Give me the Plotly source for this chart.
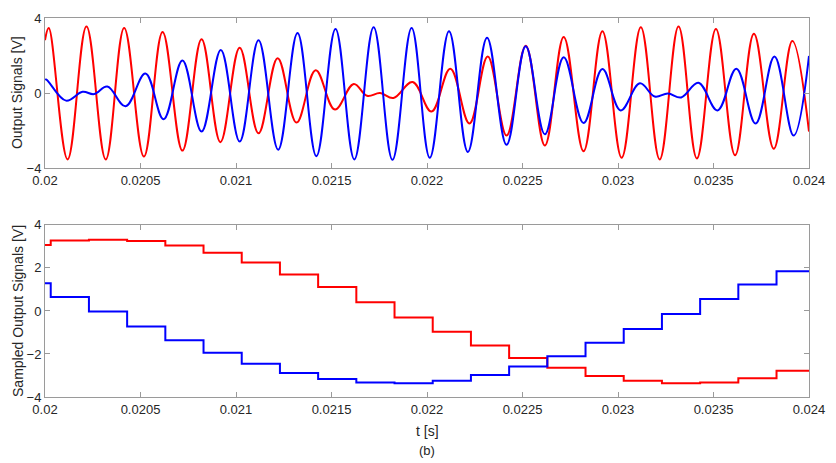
import plotly.graph_objects as go

# ---------------- top panel: output signals (extrema) -------------
red_t = [0.02, 0.0200197, 0.0201184, 0.0202171, 0.0203179, 0.0204145, 0.0205179, 0.0206156,
         0.0207195, 0.0208197, 0.0209184, 0.0210192, 0.0211179, 0.0212182, 0.0213169, 0.0214171,
         0.0215179, 0.0216166, 0.0216857, 0.0217548, 0.0218244, 0.0219247, 0.0220234, 0.0221221,
         0.0222223, 0.0223179, 0.0224166, 0.0225169, 0.0226171, 0.0227158, 0.0228197, 0.0229184,
         0.0230192, 0.0231195, 0.0232182, 0.0233169, 0.0234130, 0.0235127, 0.0236130, 0.0237117,
         0.0238156, 0.0239127, 0.024]
red_v = [2.82, 3.47, -3.53, 3.55, -3.53, 3.47, -3.38, 3.25,
         -3.06, 2.87, -2.61, 2.42, -2.14, 1.86, -1.57, 1.22,
         -0.87, 0.49, -0.14, 0.0, -0.26, 0.59, -0.98, 1.30,
         -1.62, 1.95, -2.26, 2.52, -2.79, 2.99, -3.10, 3.30,
         -3.44, 3.51, -3.53, 3.55, -3.48, 3.42, -3.31, 3.16,
         -2.96, 2.78, -2.05]

blue_t = [0.02, 0.0200062, 0.0201101, 0.0201964, 0.0202571, 0.0203262, 0.0204218, 0.0205257,
          0.0206208, 0.0207195, 0.0208197, 0.0209205, 0.0210192, 0.0211179, 0.0212208, 0.0213221,
          0.0214208, 0.0215210, 0.0216197, 0.0217205, 0.0218192, 0.0219195, 0.0220145, 0.0221153,
          0.0222140, 0.0223143, 0.0224166, 0.0225169, 0.0226171, 0.0227158, 0.0228197, 0.0229184,
          0.0230140, 0.0231143, 0.0231922, 0.0232613, 0.0233309, 0.0234208, 0.0235210, 0.0236197,
          0.0237205, 0.0238192, 0.0239195, 0.024]
blue_v = [0.70, 0.73, -0.40, 0.07, -0.05, 0.35, -0.70, 1.04,
          -1.39, 1.74, -2.05, 2.30, -2.58, 2.82, -3.01, 3.20,
          -3.36, 3.42, -3.53, 3.51, -3.55, 3.47, -3.44, 3.30,
          -3.13, 2.95, -2.75, 2.50, -2.19, 1.91, -1.59, 1.28,
          -0.92, 0.52, -0.18, -0.02, -0.23, 0.55, -0.92, 1.30,
          -1.62, 1.95, -2.26, 1.98]

# ---------------- bottom panel: sampled output signals -------------
samp_t = [0.02, 0.02003, 0.02023, 0.02043, 0.02063, 0.02083, 0.02103, 0.02123, 0.02143,
          0.02163, 0.02183, 0.02203, 0.02223, 0.02243, 0.02263, 0.02283, 0.02303, 0.02323,
          0.02343, 0.02363, 0.02383, 0.024]
red_s = [3.06, 3.27, 3.31, 3.25, 3.04, 2.71, 2.25, 1.70, 1.11,
         0.41, -0.30, -0.97, -1.61, -2.19, -2.64, -3.02, -3.25, -3.36,
         -3.33, -3.13, -2.78, -2.78]
blue_s = [1.29, 0.65, -0.03, -0.72, -1.36, -1.94, -2.46, -2.89, -3.16,
          -3.33, -3.36, -3.24, -2.98, -2.58, -2.11, -1.48, -0.84, -0.14,
          0.56, 1.23, 1.85, 1.85]

x_ticks = [0.02, 0.0205, 0.021, 0.0215, 0.022, 0.0225, 0.023, 0.0235, 0.024]
x_ticktext = ["0.02", "0.0205", "0.021", "0.0215", "0.022", "0.0225", "0.023", "0.0235", "0.024"]
y_top_ticks = [-4, 0, 4]
y_bot_ticks = [-4, -2, 0, 2, 4]

RED = "#ff0000"
BLUE = "#0000ff"
FONT = "Liberation Sans, Arial, sans-serif"
TXT = "#262626"
AX = "#9a9a9a"

fig = go.Figure()
fig.add_trace(go.Scatter(x=red_t, y=red_v, mode="lines", xaxis="x", yaxis="y",
                         line=dict(color=RED, width=2, shape="spline", smoothing=1.1)))
fig.add_trace(go.Scatter(x=blue_t, y=blue_v, mode="lines", xaxis="x", yaxis="y",
                         line=dict(color=BLUE, width=2, shape="spline", smoothing=1.1)))
fig.add_trace(go.Scatter(x=samp_t, y=red_s, mode="lines", xaxis="x2", yaxis="y2",
                         line=dict(color=RED, width=2, shape="hv")))
fig.add_trace(go.Scatter(x=samp_t, y=blue_s, mode="lines", xaxis="x2", yaxis="y2",
                         line=dict(color=BLUE, width=2, shape="hv")))

common_x = dict(range=[0.02, 0.024], tickvals=x_ticks, ticktext=x_ticktext,
                showline=True, linecolor=AX, linewidth=1, mirror="ticks",
                ticks="inside", ticklen=5, tickcolor=AX, showgrid=False, zeroline=False,
                tickfont=dict(family=FONT, size=13, color=TXT))
common_y = dict(showline=True, linecolor=AX, linewidth=1, mirror="ticks",
                ticks="inside", ticklen=5, tickcolor=AX, showgrid=False, zeroline=False,
                tickfont=dict(family=FONT, size=13, color=TXT))

fig.update_layout(
    width=836, height=463,
    margin=dict(l=45, r=20, t=11, b=66),
    paper_bgcolor="white", plot_bgcolor="white",
    showlegend=False,
    xaxis=dict(domain=[0, 1], anchor="y", **common_x),
    yaxis=dict(domain=[0.6036, 1], anchor="x", range=[-4, 4], tickvals=y_top_ticks, **common_y),
    xaxis2=dict(domain=[0, 1], anchor="y2", **common_x),
    yaxis2=dict(domain=[0, 0.4541], anchor="x2", range=[-4, 4], tickvals=y_bot_ticks, **common_y),
    annotations=[
        dict(text="Output Signals [V]", xref="paper", yref="paper", x=0, y=0.8018,
             xanchor="center", yanchor="middle", xshift=-28, textangle=-90, showarrow=False,
             font=dict(family=FONT, size=14, color=TXT)),
        dict(text="Sampled Output Signals [V]", xref="paper", yref="paper", x=0, y=0.227,
             xanchor="center", yanchor="middle", xshift=-27, textangle=-90, showarrow=False,
             font=dict(family=FONT, size=14, color=TXT)),
        dict(text="t [s]", xref="paper", yref="paper", x=0.5, y=0,
             xanchor="center", yanchor="middle", yshift=-34, showarrow=False,
             font=dict(family=FONT, size=14, color=TXT)),
        dict(text="(b)", xref="paper", yref="paper", x=0.5, y=0,
             xanchor="center", yanchor="middle", yshift=-53, showarrow=False,
             font=dict(family=FONT, size=13, color=TXT)),
    ],
)

fig.write_html("out.html", config={"displayModeBar": False},
               post_script="document.body.style.margin='0';")
